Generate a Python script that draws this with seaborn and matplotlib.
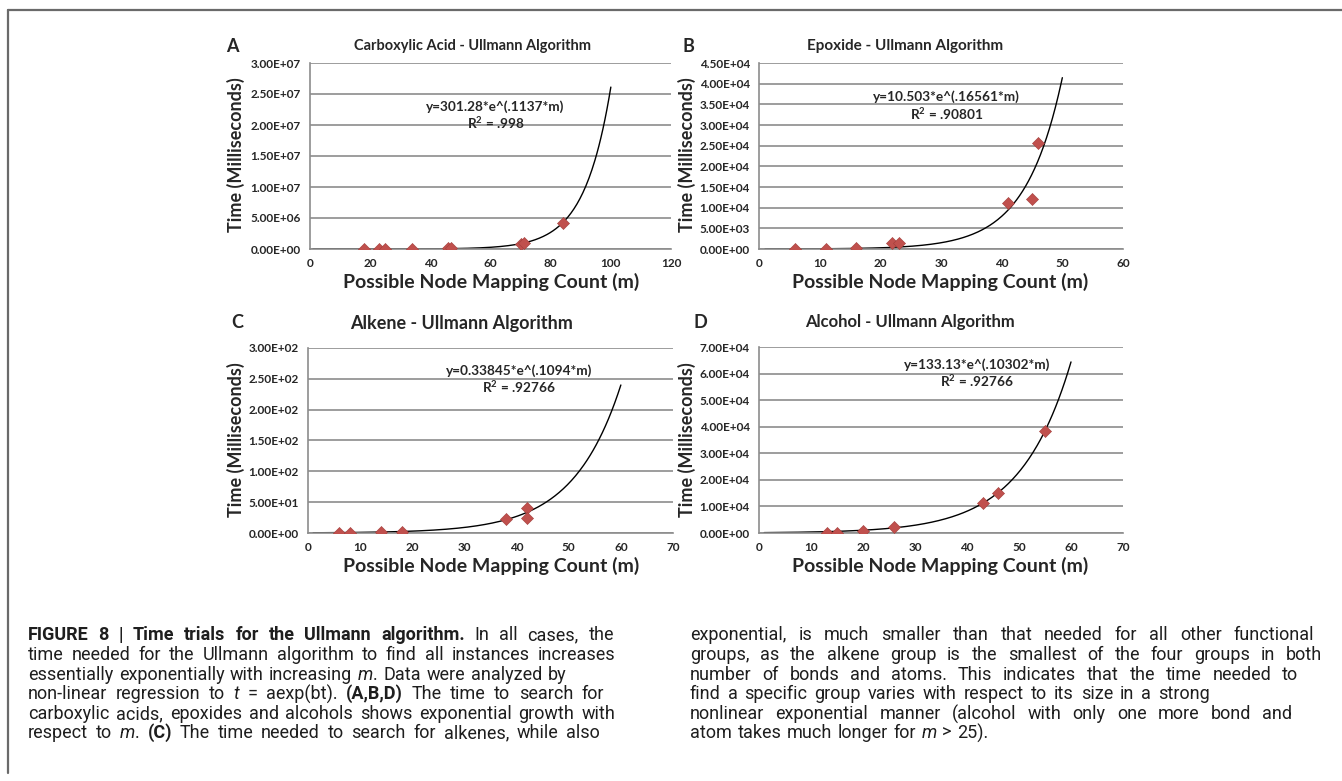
import matplotlib
matplotlib.use("Agg")

import matplotlib.pyplot as plt
import numpy as np
import pandas as pd
import seaborn as sns
from matplotlib.lines import Line2D

W, H = 1342, 781

# values
acid_m = [18, 23, 25, 34, 46, 47, 70, 71, 84]
acid_t = [2.0e3, 8.0e3, 1.2e4, 4.0e4, 1.2e5, 1.8e5, 8.0e5, 9.5e5, 4.2e6]

epox_m = [6, 11, 16, 22, 23, 41, 45, 46]
epox_t = [20, 40, 200, 1550, 1550, 11200, 12100, 25600]

alk_m = [6, 8, 14, 18, 38, 42, 42]
alk_t = [0.5, 0.6, 1.0, 1.8, 22, 41, 25]

alc_m = [13, 15, 20, 26, 43, 46, 55]
alc_t = [100, 150, 600, 2300, 11300, 15000, 38300]

# fitted t = a*exp(b*m), as printed on each panel
fit_a = [301.28, 10.503, 0.33845, 133.13]
fit_b = [0.1137, 0.16561, 0.1094, 0.10302]
fit_end = [100, 50, 60, 60]
eq_labels = [
    "y=301.28*e^(.1137*m)",
    "y=10.503*e^(.16561*m)",
    "y=0.33845*e^(.1094*m)",
    "y=133.13*e^(.10302*m)",
]
r2_labels = ["R$^2$ = .998", "R$^2$ = .90801", "R$^2$ = .92766", "R$^2$ = .92766"]
titles = [
    "Carboxylic Acid - Ullmann Algorithm",
    "Epoxide - Ullmann Algorithm",
    "Alkene - Ullmann Algorithm",
    "Alcohol - Ullmann Algorithm",
]
letters = ["A", "B", "C", "D"]
x_max = [120, 60, 70, 70]
x_step = [20, 10, 10, 10]
y_max = [3.0e7, 4.5e4, 3.0e2, 7.0e4]
y_step = [5.0e6, 5.0e3, 5.0e1, 1.0e4]

caption_left = [
    [("FIGURE 8 | Time trials for the Ullmann algorithm.", "b"), (" In all cases, the", "n")],
    [("time needed for the Ullmann algorithm to find all instances increases", "n")],
    [("essentially exponentially with increasing ", "n"), ("m", "i"), (". Data were analyzed by", "n")],
    [("non-linear regression to ", "n"), ("t", "i"), (" = aexp(bt). ", "n"), ("(A,B,D)", "b"),
     (" The time to search for", "n")],
    [("carboxylic acids, epoxides and alcohols shows exponential growth with", "n")],
    [("respect to ", "n"), ("m", "i"), (". ", "n"), ("(C)", "b"),
     (" The time needed to search for alkenes, while also", "n")],
]
caption_right = [
    [("exponential, is much smaller than that needed for all other functional", "n")],
    [("groups, as the alkene group is the smallest of the four groups in both", "n")],
    [("number of bonds and atoms. This indicates that the time needed to", "n")],
    [("find a specific group varies with respect to its size in a strong", "n")],
    [("nonlinear exponential manner (alcohol with only one more bond and", "n")],
    [("atom takes much longer for ", "n"), ("m", "i"), (" > 25).", "n")],
]

RED = "#C0504D"
GRID = "#8c8c8c"
CHART_FONT = ["Lato", "DejaVu Sans"]
CAP_FONT = ["Roboto", "DejaVu Sans"]

sns.set_style("white")
plt.rcParams["font.family"] = CHART_FONT
plt.rcParams["mathtext.fontset"] = "custom"
plt.rcParams["mathtext.rm"] = "Lato:bold"

fig = plt.figure(figsize=(W / 100, H / 100), dpi=100)


def fx(x):
    return x / W


def fy(y):
    return 1 - y / H


# axes boxes in pixels: left, right, top, bottom
boxes = [(310, 671, 63, 249), (759, 1123, 63, 249), (308, 673, 348, 533), (759, 1123, 347, 533)]
letter_pos = [(232, 47), (688, 47), (237, 323), (700, 323)]
title_pos = [(472, 46), (905, 46), (462, 323), (910, 322)]
title_size = [10.5, 11, 13, 12]
ylab_pos = [(236, 155), (687, 155), (236, 440), (687, 440)]
xlab_pos = [(491, 282), (940, 282), (491, 566), (940, 566)]
eq_pos = [(0.514, 0.763, 0.677), (0.516, 0.817, 0.726), (0.578, 0.876, 0.789), (0.599, 0.903, 0.817)]

series = [(acid_m, acid_t), (epox_m, epox_t), (alk_m, alk_t), (alc_m, alc_t)]

for i, (m_vals, t_vals) in enumerate(series):
    l, r, t, b = boxes[i]
    ax = fig.add_axes([fx(l), fy(b), (r - l) / W, (b - t) / H])

    pts = pd.DataFrame({"m": m_vals, "t": t_vals})
    mm = np.linspace(1, fit_end[i], 300)
    fit = pd.DataFrame({"m": mm, "t": fit_a[i] * np.exp(fit_b[i] * mm)})

    sns.lineplot(data=fit, x="m", y="t", ax=ax, color="black", linewidth=1.0, zorder=2)
    sns.scatterplot(data=pts, x="m", y="t", ax=ax, marker="D", color=RED, s=38,
                    edgecolor="#a13d3a", linewidth=0.4, zorder=3)

    ax.set_xlim(0, x_max[i])
    ax.set_ylim(0, y_max[i])
    xt = np.arange(0, x_max[i] + 1, x_step[i])
    yt = np.arange(0, y_max[i] + y_step[i] / 2, y_step[i])
    ax.set_xticks(xt)
    ax.set_xticklabels([f"{v:d}" for v in xt], fontweight="bold", fontsize=8.5)
    ax.set_yticks(yt)
    ax.set_yticklabels([f"{v:.2E}" for v in yt], fontweight="bold", fontsize=8.5)
    ax.tick_params(axis="both", direction="out", length=4, width=1.1, color=GRID, pad=2.5)
    ax.yaxis.grid(True, color=GRID, linewidth=1.2)
    ax.xaxis.grid(False)
    ax.set_axisbelow(True)
    for side in ["top", "right"]:
        ax.spines[side].set_visible(False)
    for side in ["left", "bottom"]:
        ax.spines[side].set_color(GRID)
        ax.spines[side].set_linewidth(1.2)
    ax.set_xlabel("")
    ax.set_ylabel("")

    ex, ey, ry = eq_pos[i]
    ax.text(ex, ey, eq_labels[i], transform=ax.transAxes, ha="center", va="center",
            fontsize=9.8, fontweight="bold")
    ax.text(ex, ry, r2_labels[i], transform=ax.transAxes, ha="center", va="center",
            fontsize=9.8, fontweight="bold")

    lx, ly = letter_pos[i]
    fig.text(fx(lx), fy(ly), letters[i], ha="center", va="center", fontsize=13, fontweight="bold")
    tx, ty = title_pos[i]
    fig.text(fx(tx), fy(ty), titles[i], ha="center", va="center", fontsize=title_size[i],
             fontweight="bold")
    yx, yy = ylab_pos[i]
    fig.text(fx(yx), fy(yy), "Time (Milliseconds)", ha="center", va="center", rotation=90,
             fontsize=13, fontweight="bold")
    xx, xy = xlab_pos[i]
    fig.text(fx(xx), fy(xy), "Possible Node Mapping Count (m)", ha="center", va="center",
             fontsize=14, fontweight="bold")

# caption: words spread between a start and an end x (pixels), never tighter than a space
cap_ax = fig.add_axes([0, 0, 1, 1])
cap_ax.axis("off")
cap_ax.set_xlim(0, W)
cap_ax.set_ylim(H, 0)
renderer = fig.canvas.get_renderer()


def cap_kw(style, size):
    return dict(fontsize=size, family=CAP_FONT, color="#1e1e1e",
                fontweight="bold" if style == "b" else "normal",
                fontstyle="italic" if style == "i" else "normal")


def measure(s, kw):
    # width, and how far the word's descender goes below that of "lp"
    # (matplotlib lifts such words when aligning on the baseline)
    tmp = cap_ax.text(0, 0, s, **kw)
    w = tmp.get_window_extent(renderer).width
    prop = tmp.get_fontproperties()
    _, _, d = renderer.get_text_width_height_descent(s, prop, ismath=False)
    _, _, lp_d = renderer.get_text_width_height_descent("lp", prop, ismath=False)
    tmp.remove()
    return w, max(d - lp_d, 0.0)


def caption_line(x0, x1, y, pieces, size=13, min_gap=5.5):
    words = [[]]
    for s, st in pieces:
        for k, part in enumerate(s.split(" ")):
            if k > 0:
                words.append([])
            if part:
                words[-1].append((part, st))
    words = [w for w in words if w]
    metrics = [[measure(f, cap_kw(st, size)) for f, st in w] for w in words]
    total = sum(sum(m[0] for m in ms) for ms in metrics)
    gap = max((x1 - x0 - total) / max(len(words) - 1, 1), min_gap)
    x = x0
    for w, ms in zip(words, metrics):
        for (f, st), (fw, drop) in zip(w, ms):
            cap_ax.text(x, y + drop, f, ha="left", va="baseline", **cap_kw(st, size))
            x += fw
        x += gap


line_y = [640, 660, 680, 699, 719, 738]
left_end = [614, 615, 538, 604, 615, 600]
right_end = [1314, 1322, 1298, 1210, 1292, 950]
for y, x1, pieces in zip(line_y, left_end, caption_left):
    caption_line(28, x1, y, pieces)
for y, x1, pieces in zip(line_y, right_end, caption_right):
    caption_line(690, x1, y, pieces)

# outer frame (top and left edges)
frame_kw = dict(color="#6a6a6a", linewidth=1.6, transform=fig.transFigure)
fig.add_artist(Line2D([fx(8), 1.0], [fy(10), fy(10)], **frame_kw))
fig.add_artist(Line2D([fx(8), fx(8)], [fy(10), fy(773)], **frame_kw))

fig.savefig("out.png", dpi=100)
